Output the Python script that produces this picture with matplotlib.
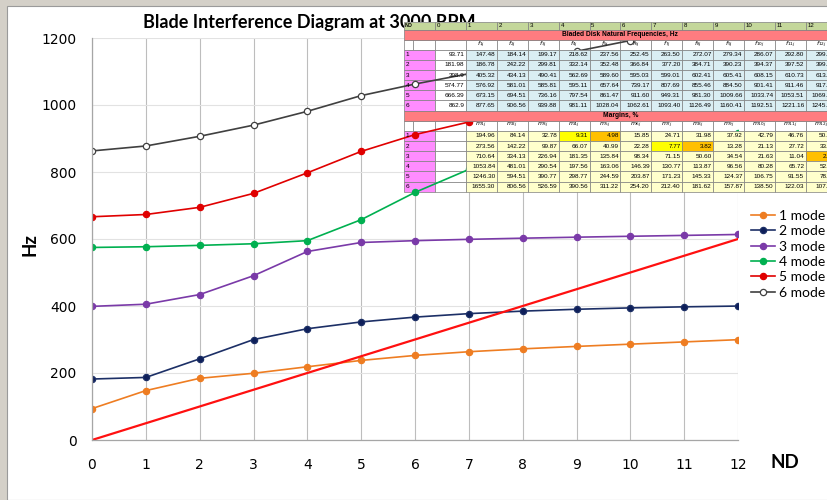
import matplotlib
matplotlib.use("Agg")
import matplotlib.pyplot as plt
from matplotlib.patches import Rectangle
from matplotlib.transforms import Affine2D

# ---------------- data ----------------
nd = [0, 1, 2, 3, 4, 5, 6, 7, 8, 9, 10, 11, 12]
mode1 = [93.71, 147.48, 184.14, 199.17, 218.62, 237.56, 252.45, 263.50, 272.07, 279.34, 286.07, 292.80, 299.47]
mode2 = [181.98, 186.78, 242.22, 299.81, 332.14, 352.48, 366.84, 377.20, 384.71, 390.23, 394.37, 397.52, 399.86]
mode3 = [398.9, 405.32, 434.13, 490.41, 562.69, 589.60, 595.03, 599.01, 602.41, 605.41, 608.15, 610.73, 613.52]
mode4 = [574.77, 576.92, 581.01, 585.81, 595.11, 657.64, 739.17, 807.69, 855.46, 884.50, 901.41, 911.46, 917.35]
mode5 = [666.39, 673.15, 694.51, 736.16, 797.54, 861.47, 911.60, 949.31, 981.30, 1009.66, 1033.74, 1053.51, 1069.20]
mode6 = [862.9, 877.65, 906.56, 939.88, 981.11, 1028.04, 1062.61, 1093.40, 1126.49, 1160.41, 1192.51, 1221.16, 1245.80]
modes = [mode1, mode2, mode3, mode4, mode5, mode6]
mode_labels = ["1 mode", "2 mode", "3 mode", "4 mode", "5 mode", "6 mode"]

# engine order line (3000 RPM)
eo_nd = [0, 12]
eo_hz = [0, 600]

# margins, % (ND 1..12)
marg1 = [194.96, 84.14, 32.78, 9.31, 4.98, 15.85, 24.71, 31.98, 37.92, 42.79, 46.76, 50.09]
marg2 = [273.56, 142.22, 99.87, 66.07, 40.99, 22.28, 7.77, 3.82, 13.28, 21.13, 27.72, 33.36]
marg3 = [710.64, 334.13, 226.94, 181.35, 135.84, 98.34, 71.15, 50.60, 34.54, 21.63, 11.04, 2.25]
marg4 = [1053.84, 481.01, 290.54, 197.56, 163.06, 146.39, 130.77, 113.87, 96.56, 80.28, 65.72, 52.89]
marg5 = [1246.30, 594.51, 390.77, 298.77, 244.59, 203.87, 171.23, 145.33, 124.37, 106.75, 91.55, 78.20]
marg6 = [1655.30, 806.56, 526.59, 390.56, 311.22, 254.20, 212.40, 181.62, 157.87, 138.50, 122.03, 107.63]
margins = [marg1, marg2, marg3, marg4, marg5, marg6]

y_ticks = [0, 200, 400, 600, 800, 1000, 1200]

# ---------------- styles ----------------
line_colors = ["#ee7d22", "#1c2f66", "#7a3aa8", "#00b050", "#e00000", "#404040"]
face_colors = ["#ee7d22", "#0e1f5a", "#7a3aa8", "#00b050", "#e00000", "white"]

W, H = 827, 500
fig = plt.figure(figsize=(W / 100, H / 100), dpi=100, facecolor="#d4d0c8")
sheet = Rectangle((7 / W, 0), 1, 1 - 6 / H, transform=fig.transFigure,
                  facecolor="white", edgecolor="#9a9a9a", lw=0.8, zorder=-10)
fig.add_artist(sheet)

ax = fig.add_axes([92 / W, 60 / H, 646 / W, 402 / H])
ax.set_facecolor("white")
ax.set_xlim(0, 12)
ax.set_ylim(0, 1200)
ax.set_xticks(nd)
ax.set_yticks(y_ticks)
ax.tick_params(length=0, labelsize=10, pad=11, colors="#000000")
ax.tick_params(axis="x", pad=13)
ax.grid(axis="x", color="#bdbdbd", lw=0.8, zorder=0.5)
ax.grid(axis="y", color="#e2e2e2", lw=0.8, zorder=0.5)
ax.set_axisbelow(True)
for s in ["top", "right"]:
    ax.spines[s].set_visible(False)
for s in ["left", "bottom"]:
    ax.spines[s].set_color("#a6a6a6")
    ax.spines[s].set_linewidth(0.9)

handles = []
for vals, lab, lc, fc in zip(modes, mode_labels, line_colors, face_colors):
    h, = ax.plot(nd, vals, color=lc, lw=1.2, marker="o", ms=4.5,
                 markerfacecolor=fc, markeredgecolor=lc, mew=0.9,
                 label=lab, zorder=2)
    handles.append(h)
ax.plot(eo_nd, eo_hz, color="#ff1010", lw=1.6, zorder=2.2)

pix = Affine2D().scale(1 / W, -1 / H).translate(0, 1) + fig.transFigure

# title (partly hidden by the pasted table)
ax.text(143, 28, "Blade Interference Diagram at 3000 RPM", transform=pix,
        ha="left", va="baseline", fontsize=13, fontweight="bold",
        family="Lato", zorder=1, clip_on=False)

fig.text(30 / W, 1 - 245 / H, "Hz", rotation=90, ha="center", va="center",
         fontsize=13.5, fontweight="bold", family="Lato")
fig.text(785 / W, 1 - 463 / H, "ND", ha="center", va="center",
         fontsize=13.5, fontweight="bold", family="Lato")

# ---------------- pasted table ----------------
TX0 = 404.0
LW = 31.0
CW = 30.9
ncol = 13
TX1 = TX0 + LW + ncol * CW
HY0, HY1 = 21.5, 29.5
RH = 10.14


def col_x(j):
    return TX0 + LW + j * CW


def row_y(i):
    return HY1 + i * RH


EDGE = "#7f7f7f"
TFONT = "Liberation Sans"
FS = 4.6


def cell(x0, y0, w, h, fc, z):
    ax.add_patch(Rectangle((x0, y0), w, h, transform=pix, facecolor=fc,
                           edgecolor=EDGE, lw=0.5, zorder=z, clip_on=False))


def txt(x, y, s, ha="right", bold=False, fs=FS):
    ax.text(x, y, s, transform=pix, ha=ha, va="center", fontsize=fs,
            family=TFONT, fontweight="bold" if bold else "normal",
            zorder=4, clip_on=False)


# white backing
ax.add_patch(Rectangle((TX0, HY0), TX1 - TX0, row_y(16) - HY0, transform=pix,
                       facecolor="white", edgecolor="none", zorder=1.5, clip_on=False))

# header row
GREEN = "#c4d79b"
cell(TX0, HY0, LW, HY1 - HY0, GREEN, 3)
txt(TX0 + 1.0, (HY0 + HY1) / 2, "ND", ha="left", bold=True, fs=3.9)
for j in range(ncol):
    cell(col_x(j), HY0, CW, HY1 - HY0, GREEN, 3)
    txt(col_x(j) + 1.8, (HY0 + HY1) / 2, str(nd[j]), ha="left", fs=4.4)

RED = "#ff7c80"
PINK = "#ff8cff"
BLUE = "#daeef3"
LYEL = "#ffffcc"


def block(r0, title, sym, vals_list, first_col_vals, fill):
    # title row
    cell(TX0, row_y(r0), TX1 - TX0, RH, RED, 3)
    txt((TX0 + TX1) / 2, row_y(r0) + RH / 2, title, ha="center", bold=True, fs=4.8)
    # sub header
    cell(TX0, row_y(r0 + 1), 9, RH, "white", 1.6)
    cell(TX0 + 9, row_y(r0 + 1), LW - 9, RH, "white", 1.6)
    cell(col_x(0), row_y(r0 + 1), CW, RH, "white", 1.6)
    for j in range(1, ncol):
        cell(col_x(j), row_y(r0 + 1), CW, RH, "white", 1.6)
        txt(col_x(j) + CW / 2, row_y(r0 + 1) + RH / 2,
            r"$\mathit{%s}_{%dj}$" % (sym, j), ha="center", fs=4.4)
    # value rows
    for i in range(6):
        yy = row_y(r0 + 2 + i)
        cell(TX0, yy, LW, RH, PINK, 1.6)
        txt(TX0 + 1.5, yy + RH / 2, str(i + 1), ha="left")
        cell(col_x(0), yy, CW, RH, "white", 1.6)
        if first_col_vals is not None:
            txt(col_x(1) - 1.5, yy + RH / 2, f"{first_col_vals[i]:g}")
        for j in range(1, ncol):
            v = vals_list[i][j - 1]
            fc = fill
            if sym == "m":
                if v < 5:
                    fc = "#ffc000"
                elif v < 10:
                    fc = "#ffff00"
            cell(col_x(j), yy, CW, RH, fc, 3)
            txt(col_x(j + 1) - 1.5, yy + RH / 2, f"{v:.2f}")


freq_rest = [m[1:] for m in modes]
freq_first = [m[0] for m in modes]
block(0, "Bladed Disk Natural Frequencies, Hz", "f", freq_rest, freq_first, BLUE)
block(8, "Margins, %", "m", margins, None, LYEL)

# legend
leg = fig.legend(handles=handles, loc="upper left",
                 bbox_to_anchor=(751 / W, 1 - 210 / H), frameon=False,
                 prop={"family": "Lato", "size": 10},
                 labelspacing=0.24, handlelength=1.75, handletextpad=0.3,
                 borderaxespad=0, borderpad=0)

fig.savefig("out.png", dpi=100, facecolor=fig.get_facecolor())
